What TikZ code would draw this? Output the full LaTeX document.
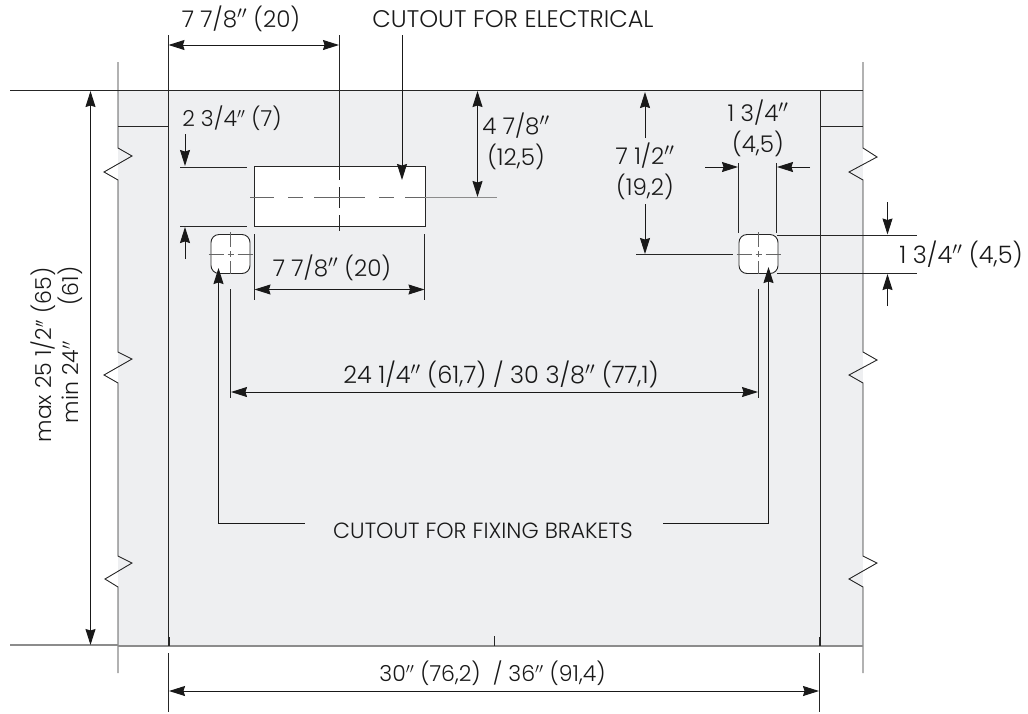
\documentclass[tikz,border=0pt]{standalone}
\usepackage{fontspec}
\setmainfont[UprightFont=* Light]{Poppins}
\usepackage{tikz}
\usetikzlibrary{arrows.meta}

\definecolor{wallgray}{HTML}{EEEFF1}

\begin{document}
\begin{tikzpicture}[
    x=1pt, y=-1pt,
    outline/.style={line width=0.9pt, color=black!85},
    thinline/.style={line width=0.9pt, color=black!85},
    grayline/.style={line width=1.3pt, color=black!45},
    centerline/.style={line width=0.9pt, color=black!60},
    arrow/.style={line width=1pt, color=black!90, >={Stealth[length=16pt,width=10pt,inset=1.5pt]}},
    dimtext/.style={font=\fontsize{22}{31}\selectfont, align=center, inner sep=0pt, text=black!90},
    dimlarge/.style={dimtext, font=\fontsize{23}{31}\selectfont},
    dimhuge/.style={dimtext, font=\fontsize{24}{31}\selectfont}
]
    \useasboundingbox (0,0) rectangle (1028,713);

    % Wall area
    \fill[wallgray] (118,90) rectangle (863,646);

    % Wall edges, with breaks
    \draw[outline] (118,62) -- (118,148) -- (132,156) -- (104,172) -- (118,180)
        -- (118,352) -- (132,359) -- (104,375) -- (118,383)
        -- (118,556) -- (132,563) -- (105,579) -- (118,587) -- (118,673);
    \draw[outline] (863,62) -- (863,148) -- (877,157) -- (849,172) -- (863,180)
        -- (863,352) -- (877,360) -- (849,375) -- (863,383)
        -- (863,556) -- (877,563) -- (849,579) -- (863,587) -- (863,673);

    % Floor and ceiling lines
    \draw[outline] (10,90) -- (863,90);
    \draw[grayline] (10,645) -- (118,645);
    \draw[grayline] (118,646) -- (863,646);
    \draw[outline] (118,126) -- (168.5,126);
    \draw[outline] (820,126) -- (863,126);

    % Unit sides
    \draw[thinline] (168.5,35) -- (168.5,646);
    \draw[thinline] (820,90) -- (820,646);
    \draw[thinline] (168.5,653) -- (168.5,712);
    \draw[thinline] (819,653) -- (819,712);
    \draw[line width=1.5pt, color=black!85] (169,637) -- (169,646);
    \draw[line width=1.5pt, color=black!85] (820,637) -- (820,646);
    \draw[line width=1.1pt, color=black!85] (494.5,636) -- (494.5,646);

    % Electrical cutout
    \fill[white] (254,166) rectangle (425,226.5);
    \draw[outline] (254,166) rectangle (425,226.5);
    \draw[thinline] (339,35) -- (339,180);
    \draw[thinline] (339,187) -- (339,208);
    \draw[thinline] (339,215) -- (339,231);
    \foreach \a/\b in {250/274, 288/303, 314/365, 379/394, 405/428}
        \draw[centerline] (\a,197) -- (\b,197);
    \draw[grayline, line width=1pt] (425,197) -- (497,197);

    % Fixing holes
    \foreach \cx in {230.5, 758.5} {
        \draw[outline, fill=white, rounded corners=8pt] (\cx-19.5,234.5) rectangle (\cx+19.5,273.5);
        \draw[centerline] (\cx-22,254) -- (\cx-7,254);
        \draw[centerline] (\cx-3,254) -- (\cx+3,254);
        \draw[centerline] (\cx+7,254) -- (\cx+22,254);
        \draw[centerline] (\cx,232) -- (\cx,247);
        \draw[centerline] (\cx,251) -- (\cx,257);
        \draw[centerline] (\cx,261) -- (\cx,274);
        \draw[thinline] (\cx,289) -- (\cx,398);
    }

    % Top dimension
    \draw[arrow, <->] (168.5,45) -- (339,45);
    \node[dimlarge] (widthtop) at (241,19) {7 7/8$''$ (20)};

    % Electrical label
    \node[dimhuge] (elec) at (513,19) {CUTOUT FOR ELECTRICAL};
    \draw[arrow, ->] (402,35) -- (402,180);

    % Depth of cutout
    \draw[arrow, <->] (477.5,91) -- (477.5,197);
    \node[dimlarge] (depthelec) at (516,141) {4 7/8$''$\\(12,5)};

    % Height of cutout
    \node[dimtext] (heightelec) at (232,118) {2 3/4$''$ (7)};
    \draw[thinline] (180,167) -- (247,167);
    \draw[thinline] (180,226) -- (247,226);
    \draw[arrow, ->] (185,134) -- (185,166);
    \draw[arrow, ->] (185,259) -- (185,227);

    % Width of cutout
    \draw[thinline] (254.5,234) -- (254.5,299.5);
    \draw[thinline] (424.5,234) -- (424.5,299.5);
    \draw[arrow, <->] (254.5,289.5) -- (424.5,289.5);
    \node[dimlarge] (widthelec) at (332,268) {7 7/8$''$ (20)};

    % Distance of holes
    \draw[arrow, ->] (645,138) -- (645,92);
    \draw[arrow, ->] (645,204) -- (645,254);
    \draw[thinline] (636,254) -- (733,254);
    \node[dimlarge] (depthhole) at (645,171) {7 1/2$''$\\(19,2)};

    % Hole width
    \draw[thinline] (738.5,163) -- (738.5,233);
    \draw[thinline] (776.5,163) -- (776.5,233);
    \draw[arrow, ->] (705,167) -- (738,167);
    \draw[arrow, ->] (810,167) -- (777,167);
    \node[dimlarge] (widthhole) at (758,128) {1 3/4$''$\\(4,5)};

    % Hole height
    \draw[thinline] (777,235) -- (917,235);
    \draw[thinline] (777,273.5) -- (917,273.5);
    \draw[arrow, ->] (887.5,202) -- (887.5,234.5);
    \draw[arrow, ->] (887.5,306) -- (887.5,274);
    \node[dimhuge] (heighthole) at (961,254) {1 3/4$''$ (4,5)};

    % Hole spacing
    \draw[arrow, <->] (231,392) -- (758,392);
    \node[dimhuge] (spacing) at (501,374) {24 1/4$''$ (61,7) / 30 3/8$''$ (77,1)};

    % Fixing labels
    \node[dimtext] (fixing) at (483,531) {CUTOUT FOR FIXING BRAKETS};
    \draw[arrow, <-] (218.5,268) -- (218.5,523) -- (305,523);
    \draw[arrow, <-] (768.5,267) -- (768.5,523) -- (663,523);

    % Height of wall
    \draw[arrow, <->] (90.5,91) -- (90.5,645);
    \node[dimtext, rotate=90] (maxheight) at (43,355) {max 25 1/2$''$ (65)};
    \node[dimtext, rotate=90] (minheight) at (70,345) {min 24$''$\hspace{36pt}(61)};

    % Width of wall
    \draw[arrow, <->] (169,691) -- (819,691);
    \node[dimtext] (widthwall) at (492.5,673) {30$''$ (76,2)\ \ / 36$''$ (91,4)};
\end{tikzpicture}
\end{document}
